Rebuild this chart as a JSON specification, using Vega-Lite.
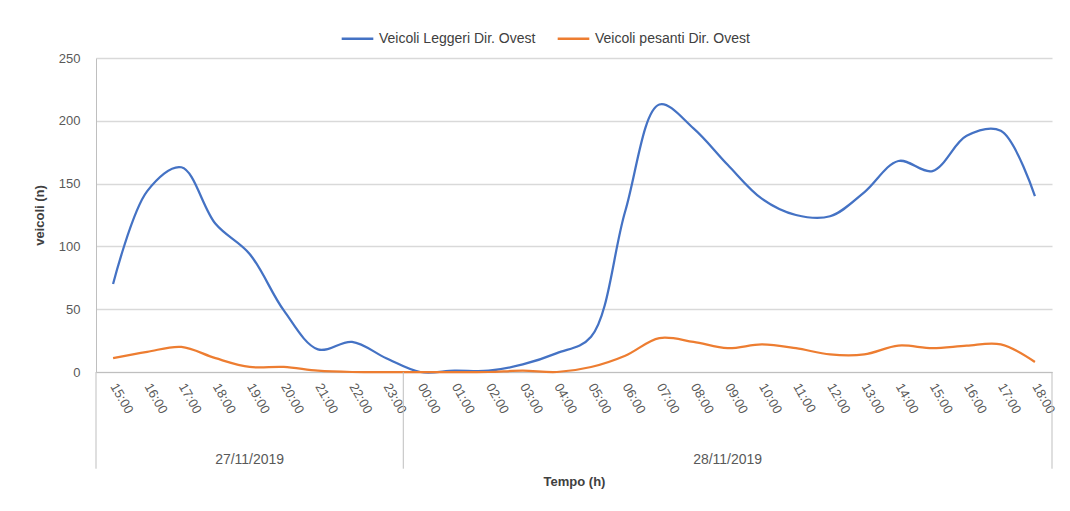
{
  "$schema": "https://vega.github.io/schema/vega-lite/v6.json",
  "autosize": {"type": "none"},
  "width": 956,
  "height": 314,
  "padding": {"left": 96, "top": 58, "right": 18, "bottom": 139},
  "background": "white",
  "config": {
    "view": {"stroke": null},
    "font": "Liberation Sans",
    "axis": {"labelFont": "Liberation Sans", "titleFont": "Liberation Sans", "labelColor": "#595959", "titleColor": "#404040"}
  },
  "datasets": {
    "traffico": [
      {"ore": 0, "serie": "Veicoli Leggeri Dir. Ovest", "veicoli": 70},
      {"ore": 1, "serie": "Veicoli Leggeri Dir. Ovest", "veicoli": 144},
      {"ore": 2, "serie": "Veicoli Leggeri Dir. Ovest", "veicoli": 163},
      {"ore": 3, "serie": "Veicoli Leggeri Dir. Ovest", "veicoli": 118},
      {"ore": 4, "serie": "Veicoli Leggeri Dir. Ovest", "veicoli": 94},
      {"ore": 5, "serie": "Veicoli Leggeri Dir. Ovest", "veicoli": 49},
      {"ore": 6, "serie": "Veicoli Leggeri Dir. Ovest", "veicoli": 18},
      {"ore": 7, "serie": "Veicoli Leggeri Dir. Ovest", "veicoli": 24},
      {"ore": 8, "serie": "Veicoli Leggeri Dir. Ovest", "veicoli": 11},
      {"ore": 9, "serie": "Veicoli Leggeri Dir. Ovest", "veicoli": 0},
      {"ore": 10, "serie": "Veicoli Leggeri Dir. Ovest", "veicoli": 1},
      {"ore": 11, "serie": "Veicoli Leggeri Dir. Ovest", "veicoli": 1},
      {"ore": 12, "serie": "Veicoli Leggeri Dir. Ovest", "veicoli": 6},
      {"ore": 13, "serie": "Veicoli Leggeri Dir. Ovest", "veicoli": 15},
      {"ore": 14, "serie": "Veicoli Leggeri Dir. Ovest", "veicoli": 28},
      {"ore": 15, "serie": "Veicoli Leggeri Dir. Ovest", "veicoli": 128},
      {"ore": 16, "serie": "Veicoli Leggeri Dir. Ovest", "veicoli": 213},
      {"ore": 17, "serie": "Veicoli Leggeri Dir. Ovest", "veicoli": 194},
      {"ore": 18, "serie": "Veicoli Leggeri Dir. Ovest", "veicoli": 165},
      {"ore": 19, "serie": "Veicoli Leggeri Dir. Ovest", "veicoli": 138},
      {"ore": 20, "serie": "Veicoli Leggeri Dir. Ovest", "veicoli": 125},
      {"ore": 21, "serie": "Veicoli Leggeri Dir. Ovest", "veicoli": 124},
      {"ore": 22, "serie": "Veicoli Leggeri Dir. Ovest", "veicoli": 143},
      {"ore": 23, "serie": "Veicoli Leggeri Dir. Ovest", "veicoli": 168},
      {"ore": 24, "serie": "Veicoli Leggeri Dir. Ovest", "veicoli": 160},
      {"ore": 25, "serie": "Veicoli Leggeri Dir. Ovest", "veicoli": 188},
      {"ore": 26, "serie": "Veicoli Leggeri Dir. Ovest", "veicoli": 192},
      {"ore": 27, "serie": "Veicoli Leggeri Dir. Ovest", "veicoli": 140},
      {"ore": 0, "serie": "Veicoli pesanti Dir. Ovest", "veicoli": 11},
      {"ore": 1, "serie": "Veicoli pesanti Dir. Ovest", "veicoli": 16},
      {"ore": 2, "serie": "Veicoli pesanti Dir. Ovest", "veicoli": 20},
      {"ore": 3, "serie": "Veicoli pesanti Dir. Ovest", "veicoli": 11},
      {"ore": 4, "serie": "Veicoli pesanti Dir. Ovest", "veicoli": 4},
      {"ore": 5, "serie": "Veicoli pesanti Dir. Ovest", "veicoli": 4},
      {"ore": 6, "serie": "Veicoli pesanti Dir. Ovest", "veicoli": 1},
      {"ore": 7, "serie": "Veicoli pesanti Dir. Ovest", "veicoli": 0},
      {"ore": 8, "serie": "Veicoli pesanti Dir. Ovest", "veicoli": 0},
      {"ore": 9, "serie": "Veicoli pesanti Dir. Ovest", "veicoli": 0},
      {"ore": 10, "serie": "Veicoli pesanti Dir. Ovest", "veicoli": 0},
      {"ore": 11, "serie": "Veicoli pesanti Dir. Ovest", "veicoli": 0},
      {"ore": 12, "serie": "Veicoli pesanti Dir. Ovest", "veicoli": 1},
      {"ore": 13, "serie": "Veicoli pesanti Dir. Ovest", "veicoli": 0},
      {"ore": 14, "serie": "Veicoli pesanti Dir. Ovest", "veicoli": 4},
      {"ore": 15, "serie": "Veicoli pesanti Dir. Ovest", "veicoli": 13},
      {"ore": 16, "serie": "Veicoli pesanti Dir. Ovest", "veicoli": 27},
      {"ore": 17, "serie": "Veicoli pesanti Dir. Ovest", "veicoli": 24},
      {"ore": 18, "serie": "Veicoli pesanti Dir. Ovest", "veicoli": 19},
      {"ore": 19, "serie": "Veicoli pesanti Dir. Ovest", "veicoli": 22},
      {"ore": 20, "serie": "Veicoli pesanti Dir. Ovest", "veicoli": 19},
      {"ore": 21, "serie": "Veicoli pesanti Dir. Ovest", "veicoli": 14},
      {"ore": 22, "serie": "Veicoli pesanti Dir. Ovest", "veicoli": 14},
      {"ore": 23, "serie": "Veicoli pesanti Dir. Ovest", "veicoli": 21},
      {"ore": 24, "serie": "Veicoli pesanti Dir. Ovest", "veicoli": 19},
      {"ore": 25, "serie": "Veicoli pesanti Dir. Ovest", "veicoli": 21},
      {"ore": 26, "serie": "Veicoli pesanti Dir. Ovest", "veicoli": 22},
      {"ore": 27, "serie": "Veicoli pesanti Dir. Ovest", "veicoli": 8}
    ],
    "confini": [{"ore": -0.5}, {"ore": 8.5}, {"ore": 27.5}],
    "giorni": [{"giorno": "27/11/2019", "ore": 4}, {"giorno": "28/11/2019", "ore": 18}]
  },
  "layer": [
    {
      "data": {"name": "traffico"},
      "mark": {"type": "line", "interpolate": "catmull-rom", "strokeWidth": 2.25},
      "encoding": {
        "x": {
          "field": "ore", "type": "quantitative",
          "scale": {"domain": [-0.5, 27.5], "nice": false, "zero": false},
          "axis": {
            "title": "Tempo (h)", "titleFontSize": 13, "titleFontWeight": "bold", "titlePadding": 60,
            "values": [0, 1, 2, 3, 4, 5, 6, 7, 8, 9, 10, 11, 12, 13, 14, 15, 16, 17, 18, 19, 20, 21, 22, 23, 24, 25, 26, 27],
            "tickCount": 40,
            "labelExpr": "(((datum.value + 15) % 24) < 10 ? '0' : '') + ((datum.value + 15) % 24) + ':00'",
            "labelAngle": 60, "labelAlign": "left", "labelBaseline": "middle",
            "labelPadding": 12, "labelFontSize": 13, "labelOverlap": false, "labelFlush": false,
            "ticks": false, "grid": false, "domain": true, "domainColor": "#bfbfbf", "domainWidth": 1
          }
        },
        "y": {
          "field": "veicoli", "type": "quantitative",
          "scale": {"domain": [0, 250], "nice": false},
          "axis": {
            "title": "veicoli (n)", "titleFontSize": 13, "titleFontWeight": "bold", "titlePadding": 12,
            "values": [0, 50, 100, 150, 200, 250], "labelFontSize": 13, "labelPadding": 16,
            "ticks": false, "domain": true, "domainColor": "#bfbfbf", "gridColor": "#d9d9d9", "gridWidth": 1.3
          }
        },
        "color": {
          "field": "serie", "type": "nominal",
          "scale": {"domain": ["Veicoli Leggeri Dir. Ovest", "Veicoli pesanti Dir. Ovest"], "range": ["#4472C4", "#ED7D31"]},
          "legend": {
            "title": null, "orient": "none", "direction": "horizontal", "legendX": 244, "legendY": -37,
            "symbolType": "stroke", "symbolSize": 1000, "symbolStrokeWidth": 2.5,
            "labelFontSize": 14, "labelColor": "#404040", "labelFont": "Liberation Sans", "columnPadding": 16, "labelOffset": 4, "labelLimit": 300
          }
        }
      }
    },
    {
      "data": {"name": "confini"},
      "mark": {"type": "rule", "color": "#bfbfbf", "strokeWidth": 1},
      "encoding": {
        "x": {"field": "ore", "type": "quantitative"},
        "y": {"datum": 0},
        "y2": {"datum": -77}
      }
    },
    {
      "data": {"name": "giorni"},
      "mark": {"type": "text", "fontSize": 14, "color": "#595959", "font": "Liberation Sans", "baseline": "middle", "align": "center"},
      "encoding": {
        "x": {"field": "ore", "type": "quantitative"},
        "y": {"datum": -70},
        "text": {"field": "giorno"}
      }
    }
  ]
}
